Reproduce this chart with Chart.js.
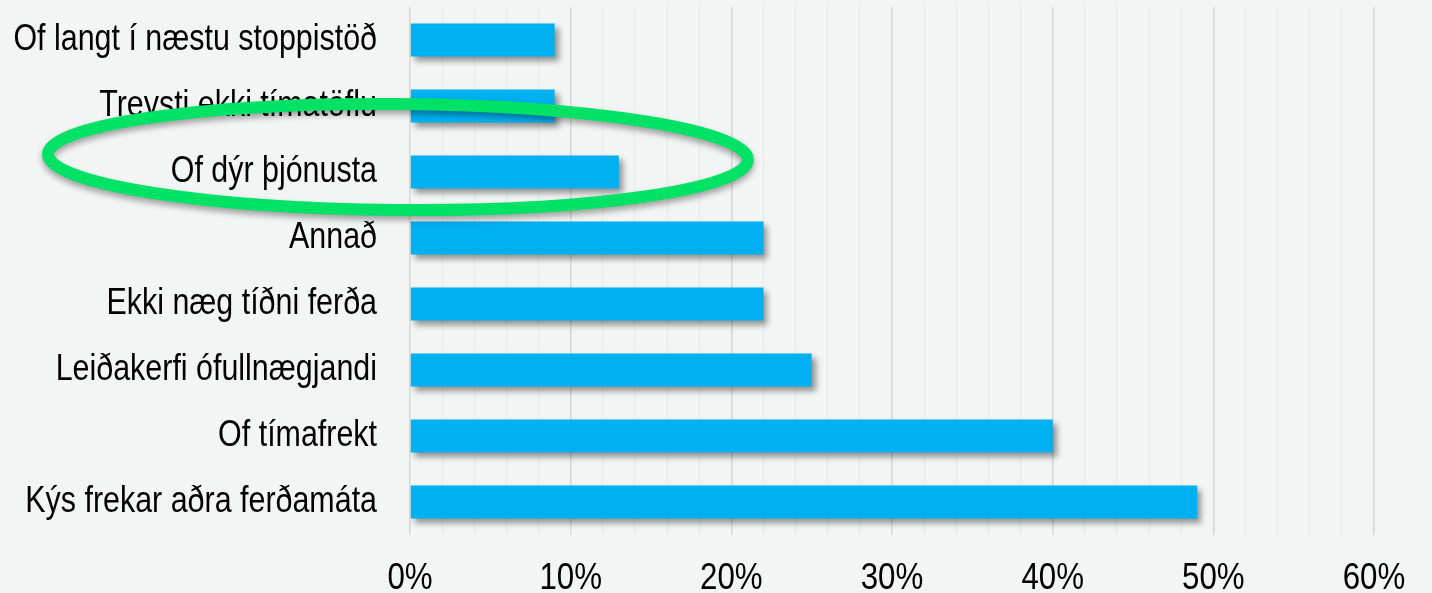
<!DOCTYPE html>
<html>
<head>
<meta charset="utf-8">
<script src="https://cdn.jsdelivr.net/npm/chart.js@4/dist/chart.umd.min.js"></script>
<style>
  html, body { margin:0; padding:0; background:#f3f5f5; }
  #wrap { width:1432px; height:593px; }
</style>
</head>
<body>
<div id="wrap"><canvas id="myChart" width="1432" height="593"></canvas></div>
<script>
const flokkar = ['Of langt í næstu stoppistöð','Treysti ekki tímatöflu','Of dýr þjónusta','Annað','Ekki næg tíðni ferða','Leiðakerfi ófullnægjandi','Of tímafrekt','Kýs frekar aðra ferðamáta']
const hlutfall = [9,9,13,22,22,25,40,49]
const asMerki = [0,10,20,30,40,50,60]

const letur = '"Liberation Sans Narrow", "Arial Narrow", "Liberation Sans", Arial, sans-serif'

// letrid i frumriti er mjott, thjoppum texta larett
const mjottLetur = {
    id:'mjottLetur',
    beforeDraw(chart){
        const ctx = chart.ctx
        const orig = ctx.fillText
        ctx._fillText = orig
        ctx.fillText = function(t, x, y, mw){
            const w = this.measureText(t).width * 0.845
            orig.call(this, t, x, y, mw ? Math.min(mw, w) : w)
        }
    },
    afterDraw(chart){
        const ctx = chart.ctx
        if (ctx._fillText) { ctx.fillText = ctx._fillText; delete ctx._fillText }
    }
}

// skuggi undir sulum
const skuggi = {
    id:'skuggi',
    beforeDatasetsDraw(chart){
        const ctx = chart.ctx
        ctx.save()
        ctx.shadowColor = 'rgba(0,0,0,0.4)'
        ctx.shadowBlur = 6
        ctx.shadowOffsetX = 4
        ctx.shadowOffsetY = 4
    },
    afterDatasetsDraw(chart){
        chart.ctx.restore()
    }
}

// graeni hringurinn utan um "Of dyr thjonusta"
const hringur = {
    id:'hringur',
    afterDraw(chart){
        const ctx = chart.ctx
        ctx.save()
        ctx.shadowColor = 'rgba(0,0,0,0.35)'
        ctx.shadowBlur = 6
        ctx.shadowOffsetY = 4
        ctx.strokeStyle = '#00e266'
        ctx.lineWidth = 12
        ctx.beginPath()
        ctx.ellipse(398, 157, 350, 53, 0.008, 0, Math.PI*2)
        ctx.stroke()
        ctx.restore()
    }
}

const config ={
    type:'bar',
    data:{
        labels:flokkar,
        datasets:[
            {
                data:hlutfall,
                backgroundColor:'#00b0f0',
                borderWidth:0,
                barPercentage:0.5,
                categoryPercentage:1
            }
        ]
    },
    options:{
        indexAxis:'y',
        responsive:false,
        animation:false,
        layout:{ padding:{ top:7, right:58, bottom:0, left:0 } },
        plugins:{ legend:{ display:false }, tooltip:{ enabled:false } },
        scales:{
            x:{
                min:0,
                max:60,
                ticks:{
                    stepSize:2,
                    autoSkip:false,
                    maxRotation:0,
                    padding:22,
                    color:'#000',
                    font:{ family:letur, size:37 },
                    callback:(v)=> asMerki.includes(v) ? v+'%' : ''
                },
                grid:{
                    drawTicks:false,
                    color:(c)=> c.tick && c.tick.value % 10 === 0 ? '#d6d6d6' : '#e6e8e8',
                    lineWidth:(c)=> c.tick && c.tick.value % 10 === 0 ? 1.5 : 1
                },
                border:{ display:false },
                afterFit:(s)=>{ s.height = 58; s.paddingLeft = 0; s.paddingRight = 0 }
            },
            y:{
                ticks:{
                    padding:33,
                    color:'#000',
                    font:{ family:letur, size:36 }
                },
                grid:{ display:false, drawTicks:false },
                border:{ display:false },
                afterFit:(s)=>{ s.width = 410; s.paddingTop = 0; s.paddingBottom = 0 }
            }
        }
    },
    plugins:[mjottLetur, skuggi, hringur]
}
var myChart = new Chart(document.getElementById('myChart'),config)
</script>
</body>
</html>
